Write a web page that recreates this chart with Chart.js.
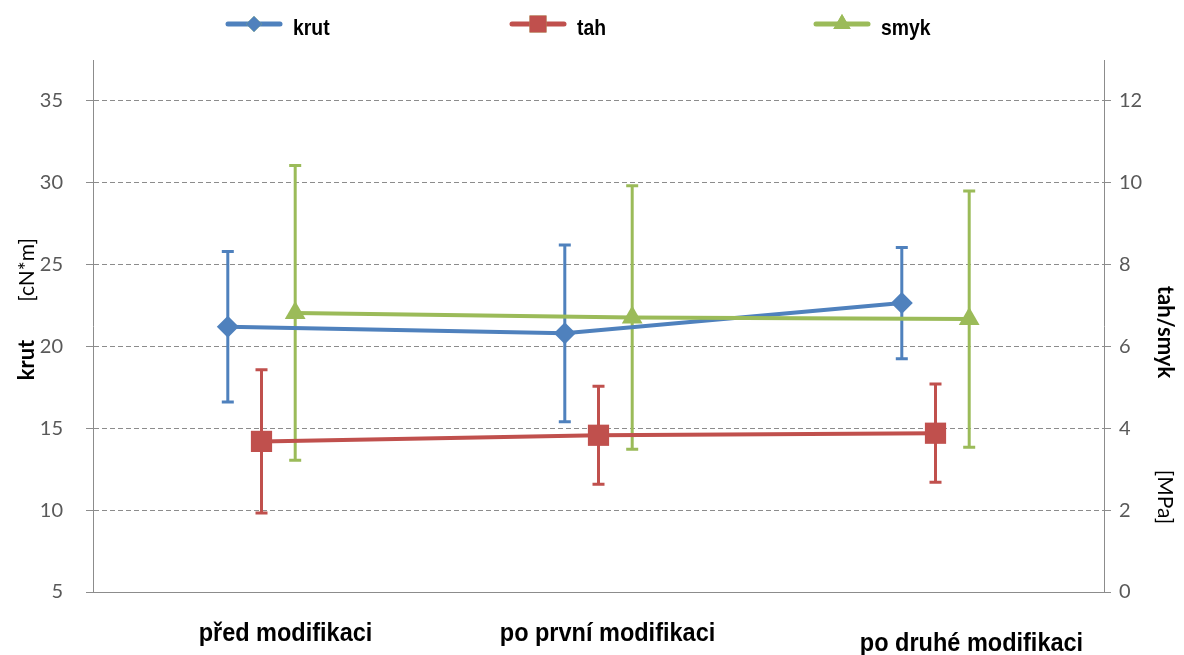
<!DOCTYPE html>
<html>
<head>
<meta charset="utf-8">
<script src="https://cdn.jsdelivr.net/npm/chart.js@4.4.1/dist/chart.umd.min.js"></script>
<style>
  html, body { margin: 0; padding: 0; background: #ffffff; }
  #wrap { width: 1184px; height: 655px; }
</style>
</head>
<body>
<div id="wrap"><canvas id="c" width="1184" height="655"></canvas></div>
<script>
// Categories (stages of the modification)
const categories = ['před modifikaci', 'po první modifikaci', 'po druhé modifikaci'];

// krut [cN*m] – left axis; mean and standard deviation
const krut   = [21.2, 20.8, 22.65];
const krutSd = [4.6, 5.4, 3.4];

// tah [MPa] – right axis
const tah   = [3.68, 3.83, 3.88];
const tahSd = [1.75, 1.2, 1.2];

// smyk [MPa] – right axis
const smyk   = [6.82, 6.71, 6.67];
const smykSd = [3.6, 3.22, 3.13];

// Tick values shown on the two value axes
const leftTicks  = [5, 10, 15, 20, 25, 30, 35];
const rightTicks = [0, 2, 4, 6, 8, 10, 12];

const COLORS = { krut: '#4F81BD', tah: '#C0504D', smyk: '#9BBB59' };
const AXIS_GREY = '#8c8c8c';
const TICK_FONT = { family: 'Lato, "Open Sans", sans-serif', size: 20 };

// Series sit side by side around each category position
const SHIFT = { krut: -0.1, tah: 0, smyk: 0.1 };
const toPoints = (vals, shift) => vals.map((v, i) => ({ x: i + 1 + shift, y: v }));

function makeSet(label, vals, sd, style, radius, axis, order) {
  return {
    label, data: toPoints(vals, SHIFT[label]), sd,
    yAxisID: axis, order,
    borderColor: COLORS[label], backgroundColor: COLORS[label],
    borderWidth: 4, pointStyle: style, pointRadius: radius, pointHoverRadius: radius,
    pointBorderWidth: 0, pointBackgroundColor: COLORS[label],
    tension: 0, fill: false, clip: false
  };
}

// Vertical error bars with caps, drawn underneath the lines and markers
const errorBars = {
  id: 'errorBars',
  beforeDatasetsDraw(chart) {
    const ctx = chart.ctx;
    chart.data.datasets.forEach((ds, di) => {
      const meta = chart.getDatasetMeta(di);
      const ys = chart.scales[ds.yAxisID];
      ctx.save();
      ctx.strokeStyle = ds.borderColor;
      ctx.lineWidth = 3;
      ctx.lineCap = 'butt';
      meta.data.forEach((pt, i) => {
        const v = ds.data[i].y, s = ds.sd[i];
        const yTop = ys.getPixelForValue(v + s);
        const yBot = ys.getPixelForValue(v - s);
        const x = pt.x;
        ctx.beginPath();
        ctx.moveTo(x, yTop); ctx.lineTo(x, yBot);
        ctx.moveTo(x - 6, yTop); ctx.lineTo(x + 6, yTop);
        ctx.moveTo(x - 6, yBot); ctx.lineTo(x + 6, yBot);
        ctx.stroke();
      });
      ctx.restore();
    });
  }
};

// Draws text squeezed horizontally (narrow bold face)
function narrowText(ctx, text, x, y, font, sx, align) {
  ctx.save();
  ctx.translate(x, y);
  ctx.scale(sx, 1);
  ctx.font = font;
  ctx.textAlign = align;
  ctx.textBaseline = 'middle';
  ctx.fillText(text, 0, 0);
  ctx.restore();
}

// Legend row: line with marker followed by the series name
const legendRow = {
  id: 'legendRow',
  afterDraw(chart) {
    const ctx = chart.ctx;
    const items = [
      { ds: 0, x: 228, r: 8 },
      { ds: 1, x: 512, r: 12 },
      { ds: 2, x: 816, r: 10 }
    ];
    const y = 24;
    items.forEach(it => {
      const ds = chart.data.datasets[it.ds];
      ctx.save();
      ctx.strokeStyle = ds.borderColor;
      ctx.lineWidth = 5;
      ctx.lineCap = 'round';
      ctx.beginPath();
      ctx.moveTo(it.x, y); ctx.lineTo(it.x + 52, y);
      ctx.stroke();
      Chart.helpers.drawPoint(ctx, { pointStyle: ds.pointStyle, radius: it.r, borderWidth: 0 }, it.x + 26, y);
      ctx.fillStyle = ds.borderColor;
      ctx.fill();
      ctx.fillStyle = '#000000';
      narrowText(ctx, ds.label, it.x + 65, y + 5, 'bold 22px "Liberation Sans", Arial, sans-serif', 0.88, 'left');
      ctx.restore();
    });
  }
};

// Category names under the plot
const categoryLabels = {
  id: 'categoryLabels',
  afterDraw(chart) {
    const ctx = chart.ctx;
    const xs = chart.scales.x;
    const nudges = [{ dx: 24, y: 634 }, { dx: 9, y: 634 }, { dx: 36, y: 644 }];
    ctx.save();
    ctx.fillStyle = '#000000';
    categories.forEach((c, i) => {
      narrowText(ctx, c, xs.getPixelForValue(i + 1) + nudges[i].dx, nudges[i].y,
        'bold 25px "Liberation Sans", Arial, sans-serif', 0.94, 'center');
    });
    ctx.restore();
  }
};

// Rotated axis titles: bold quantity name plus unit in brackets
const axisTitles = {
  id: 'axisTitles',
  afterDraw(chart) {
    const ctx = chart.ctx;
    const fam = 'Lato, "Open Sans", sans-serif';
    const put = (text, font, x, y, angle) => {
      ctx.save();
      ctx.translate(x, y);
      ctx.rotate(angle);
      ctx.font = font;
      ctx.fillStyle = '#000000';
      ctx.textAlign = 'center';
      ctx.textBaseline = 'middle';
      ctx.fillText(text, 0, 0);
      ctx.restore();
    };
    put('krut', 'bold 22px ' + fam, 27, 360, -Math.PI / 2);
    put('[cN*m]', '21px ' + fam, 27, 270, -Math.PI / 2);
    put('tah/smyk', 'bold 22px ' + fam, 1165, 332, Math.PI / 2);
    put('[MPa]', '21px ' + fam, 1165, 497, Math.PI / 2);
  }
};

const keepTicks = list => scale => {
  scale.ticks = list.map(v => ({ value: v }));
};

new Chart(document.getElementById('c'), {
  type: 'line',
  data: {
    datasets: [
      makeSet('krut', krut, krutSd, 'rectRot', 11, 'y', 2),
      makeSet('tah', tah, tahSd, 'rect', 15, 'y1', 1),
      makeSet('smyk', smyk, smykSd, 'triangle', 12, 'y1', 0)
    ]
  },
  options: {
    responsive: false,
    animation: false,
    devicePixelRatio: 1,
    layout: { padding: { top: 60, left: 0, right: 0, bottom: 0 } },
    plugins: { legend: { display: false }, tooltip: { enabled: false } },
    scales: {
      x: {
        type: 'linear', min: 0.5, max: 3.5,
        ticks: { display: false },
        grid: { display: false, drawTicks: false },
        border: { display: true, color: AXIS_GREY, width: 1 },
        afterFit(scale) { scale.height = 63; }
      },
      y: {
        type: 'linear', position: 'left', min: 5, max: 37.5,
        afterBuildTicks: keepTicks(leftTicks),
        ticks: { color: '#595959', font: TICK_FONT, padding: 23 },
        grid: {
          color: c => (c.tick && c.tick.value === 5) ? 'rgba(0,0,0,0)' : AXIS_GREY,
          tickColor: AXIS_GREY, tickLength: 7, tickBorderDash: [], lineWidth: 1
        },
        border: { display: true, color: AXIS_GREY, width: 1, dash: [5, 3] },
        afterFit(scale) { scale.width = 93; }
      },
      y1: {
        type: 'linear', position: 'right', min: 0, max: 13,
        afterBuildTicks: keepTicks(rightTicks),
        ticks: { color: '#595959', font: TICK_FONT, padding: 8 },
        grid: { drawOnChartArea: false, tickColor: AXIS_GREY, tickLength: 7 },
        border: { display: true, color: AXIS_GREY, width: 1 },
        afterFit(scale) { scale.width = 80; }
      }
    }
  },
  plugins: [errorBars, legendRow, categoryLabels, axisTitles]
});
</script>
</body>
</html>
